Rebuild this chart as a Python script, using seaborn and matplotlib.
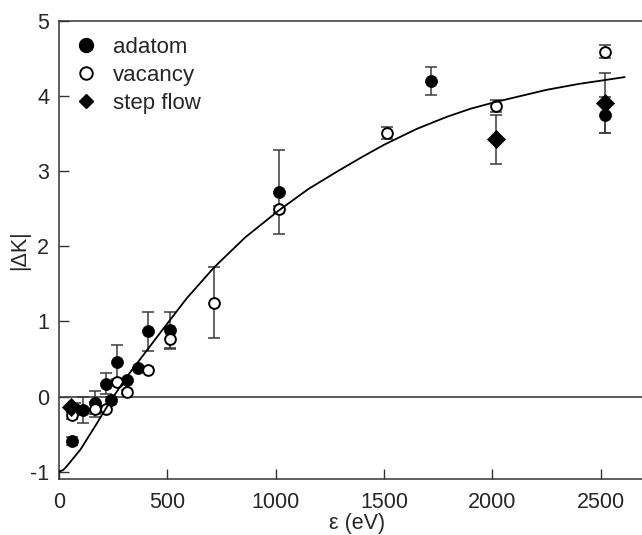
import matplotlib
matplotlib.use("Agg")
import matplotlib.pyplot as plt
import seaborn as sns
import pandas as pd
from matplotlib.lines import Line2D

# adatom (filled circles)
adatom_x = [61, 74, 112, 166, 215, 240, 266, 315, 363, 412, 512, 1016, 1716, 2518]
adatom_y = [-0.59, -0.17, -0.18, -0.08, 0.17, -0.05, 0.46, 0.22, 0.375, 0.87, 0.88, 2.72, 4.20, 3.74]
adatom_err = [0.05, 0.08, 0.17, 0.15, 0.14, 0.05, 0.23, 0.0, 0.0, 0.26, 0.25, 0.56, 0.19, 0.24]

# vacancy (open circles)
vacancy_x = [61, 166, 215, 266, 315, 412, 512, 716, 1016, 1514, 2016, 2518]
vacancy_y = [-0.25, -0.17, -0.16, 0.19, 0.06, 0.36, 0.77, 1.25, 2.49, 3.50, 3.86, 4.59]
vacancy_err = [0.05, 0.10, 0.03, 0.03, 0.03, 0.03, 0.13, 0.47, 0.05, 0.08, 0.08, 0.09]

# step flow (diamonds)
step_x = [55, 2016, 2518]
step_y = [-0.14, 3.42, 3.90]
step_err = [0.0, 0.33, 0.40]

# fitted curve
curve_x = [0, 20, 35, 66, 100, 174, 235, 312, 420, 470, 590, 716, 860, 1016, 1150, 1281,
           1400, 1500, 1650, 1788, 1900, 2016, 2249, 2400, 2518, 2610]
curve_y = [-1.0, -0.975, -0.93, -0.82, -0.70, -0.36, -0.07, 0.26, 0.67, 0.86, 1.31, 1.72,
           2.12, 2.48, 2.76, 2.99, 3.19, 3.35, 3.56, 3.72, 3.83, 3.92, 4.08, 4.16, 4.21, 4.25]

sns.set_style("ticks")
plt.rcParams['font.family'] = ['Liberation Sans', 'DejaVu Sans']
plt.rcParams['axes.unicode_minus'] = False

fig = plt.figure(figsize=(6.42, 5.35), dpi=100)
ax = fig.add_axes([59 / 642, 55.7 / 535, 596 / 642, 458.6 / 535])

ax.axhline(0, color='#404040', lw=1.2, zorder=1)

err_kw = dict(fmt='none', ecolor='#3a3a3a', elinewidth=1.1, capsize=4.5, capthick=1.1, zorder=2)
ax.errorbar(adatom_x, adatom_y, yerr=adatom_err, **err_kw)
ax.errorbar(vacancy_x, vacancy_y, yerr=vacancy_err, **err_kw)
ax.errorbar(step_x, step_y, yerr=step_err, **err_kw)

sns.lineplot(x=curve_x, y=curve_y, ax=ax, color='black', lw=1.3, estimator=None, sort=False, zorder=4)

sns.scatterplot(x=adatom_x, y=adatom_y, ax=ax, marker='o', s=75, color='black',
                edgecolor='black', linewidth=0.5, zorder=3)
sns.scatterplot(x=vacancy_x, y=vacancy_y, ax=ax, marker='o', s=60, facecolor='white',
                edgecolor='black', linewidth=1.4, zorder=3)
sns.scatterplot(x=step_x, y=step_y, ax=ax, marker='D', s=85, color='black',
                edgecolor='black', linewidth=0.5, zorder=3)

ax.set_xlim(0, 2750)
ax.set_ylim(-1.1, 5.0)
ax.set_xticks([0, 500, 1000, 1500, 2000, 2500])
ax.set_yticks([-1, 0, 1, 2, 3, 4, 5])
ax.tick_params(direction='in', length=7.5, width=1, labelsize=15.5, color='#333333')
ax.tick_params(axis='x', pad=9)
ax.tick_params(axis='y', pad=7)
for s in ['left', 'bottom', 'top']:
    ax.spines[s].set_color('#333333')
    ax.spines[s].set_linewidth(1.1)
ax.spines['right'].set_visible(False)

ax.set_xlabel('ε (eV)', fontsize=15.5, labelpad=0)
ax.set_ylabel('|ΔK|', fontsize=15.5, labelpad=0)

handles = [
    Line2D([], [], marker='o', ls='none', color='black', markersize=10, label='adatom'),
    Line2D([], [], marker='o', ls='none', markerfacecolor='white', markeredgecolor='black',
           markeredgewidth=1.4, markersize=9, label='vacancy'),
    Line2D([], [], marker='D', ls='none', color='black', markersize=7.5, label='step flow'),
]
ax.legend(handles=handles, loc='upper left', bbox_to_anchor=(-0.016, 1.008), frameon=False,
          fontsize=16, handletextpad=0.45, labelspacing=0.32, handlelength=1.5)

fig.savefig('out.png', dpi=100)
